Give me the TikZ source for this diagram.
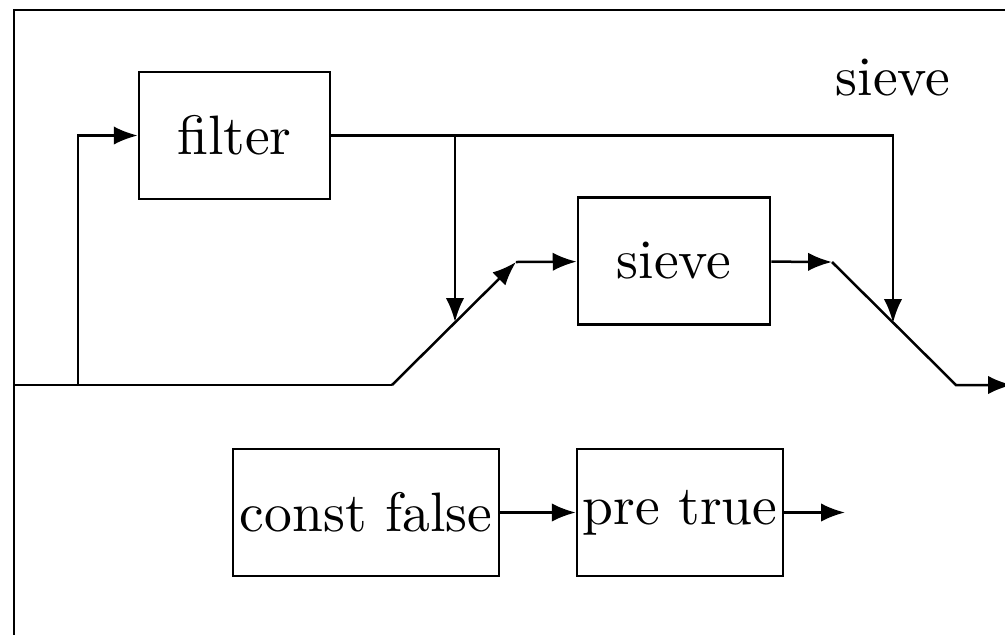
\documentclass[tikz,border=0pt]{standalone}
\usetikzlibrary{arrows.meta, positioning}

\begin{document}
\begin{tikzpicture}[
    x=0.18pt, y=-0.18pt,
    line width=0.45pt,
    box/.style={draw, rectangle, inner sep=1pt, minimum height=22.9pt},
    arrow/.style={-{Latex[length=4.3pt,width=3.3pt]}}
]
\useasboundingbox (0,0) rectangle (1005,635);
\draw (14,10) rectangle (1100,700);

\node[box, minimum width=34.4pt] (filter) at (234.5,135.5) {filter};
\node[box, minimum width=34.6pt] (sieve) at (674,261) {sieve};
\node[box, minimum width=47.9pt] (const) at (366,512.5) {const false};
\node[box, minimum width=36.7pt] (pre) at (680,512.5) {pre true};
\node (label) at (893,78) {sieve};

% junctions on the wires
\coordinate (in) at (14,385);
\coordinate (split) at (78,385);
\coordinate (bend) at (392,385);
\coordinate (top) at (516,262);
\coordinate (tap) at (455,135.5);
\coordinate (mergea) at (455,322);
\coordinate (mergeb) at (893,323);
\coordinate (exit) at (832,262);
\coordinate (drop) at (956,385);
\coordinate (out) at (1012,385);
\coordinate (preout) at (845,512.5);

\draw (in) -- (bend);
\draw[arrow] (split) |- (filter);
\draw[arrow] (bend) -- (top);
\draw[arrow] (top) -- (sieve);
\draw[arrow] (filter.east) -| (mergeb);
\draw[arrow] (tap) -- (mergea);
\draw[arrow] (sieve) -- (exit);
\draw[arrow] (exit) -- (drop) -- (out);
\draw[arrow] (const) -- (pre);
\draw[arrow] (pre) -- (preout);
\end{tikzpicture}
\end{document}
